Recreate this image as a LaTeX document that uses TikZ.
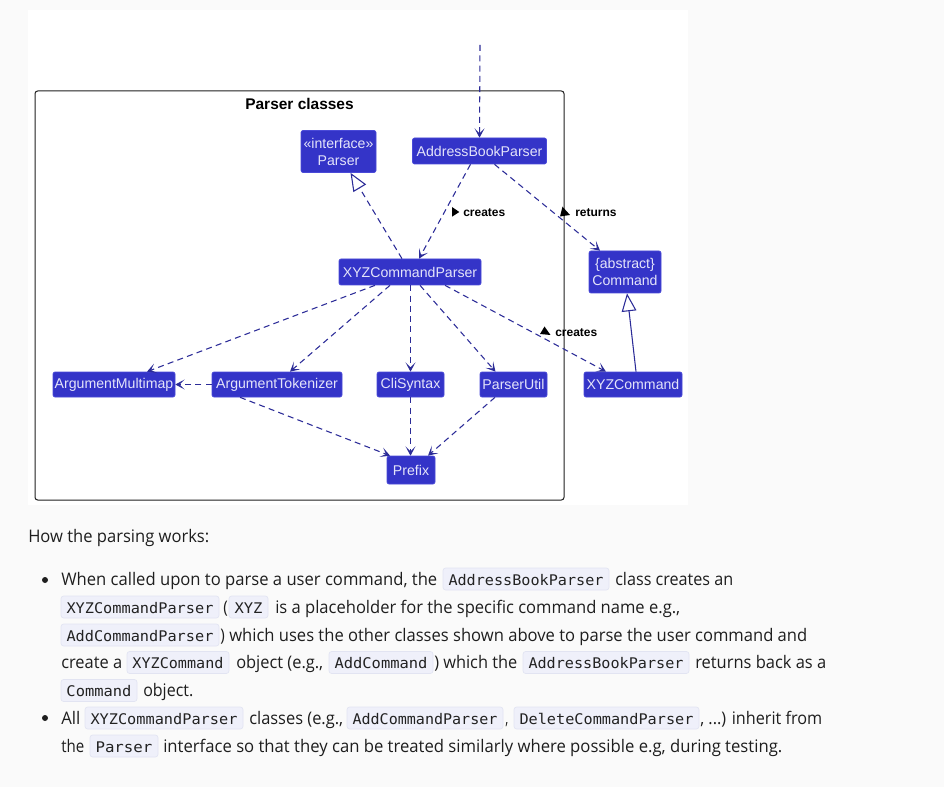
\documentclass[tikz,border=0pt]{standalone}
\usepackage{fontspec}
\usepackage{graphicx}
\setmainfont{Liberation Sans}
\newfontfamily\prosefam{Open Sans}
\newfontfamily\codefam{DejaVu Sans Mono}
\usetikzlibrary{arrows.meta,calc}
\definecolor{pagebg}{HTML}{FAFAFA}
\definecolor{boxc}{HTML}{3434C8}
\definecolor{boxd}{HTML}{4A4AD8}
\definecolor{boxt}{HTML}{E4E4FA}
\definecolor{arrc}{HTML}{2C2C98}
\definecolor{framec}{HTML}{202020}
\definecolor{txtc}{HTML}{1E1E1E}
\definecolor{codebg}{HTML}{EFF0FA}
\definecolor{codebd}{HTML}{E2E4F2}
\definecolor{codec}{HTML}{222222}
\newdimen\pxd \pxd=0.75pt
\def\pxu{0.75pt}
\newcounter{segc}
\newcommand\prosefont{\prosefam\fontsize{13}{16}\selectfont}
\newcommand\codefont{\codefam\fontsize{11}{13}\selectfont}
% x, baseline, width, text
\newcommand\prose[4]{\stepcounter{segc}%
  \node[anchor=base west, inner sep=0pt, text=txtc, font=\prosefont] (p\arabic{segc}) at (#1,#2) {\resizebox{#3\pxd}{\height}{#4}};}
% x1, x2, baseline, text
\newcommand\code[4]{\stepcounter{segc}%
  \filldraw[fill=codebg, draw=codebd, line width=0.5pt, rounded corners=2pt] (#1,#3-17) rectangle (#2,#3+5);
  \node[anchor=base, inner sep=0pt, font=\codefont, text=codec] (c\arabic{segc}) at ({(#1+#2)/2},#3) {\resizebox{\dimexpr #2\pxd-#1\pxd-11\pxd\relax}{\height}{#4}};}
\begin{document}
\begin{tikzpicture}[x=0.75pt,y=-0.75pt,
  cls/.style={fill=boxc, draw=boxd, line width=0.5pt, text=boxt,
    font=\fontsize{10.6}{12.75}\selectfont, rounded corners=1.5pt, inner sep=0pt, align=center},
  dep/.style={draw=arrc, line width=0.8pt, dash pattern=on 4.5pt off 3.2pt,
    -{Stealth[length=7pt,width=7.5pt,inset=3.8pt]}},
  real/.style={draw=arrc, line width=0.8pt, dash pattern=on 4.5pt off 3.2pt,
    -{Triangle[open,length=13.5pt,width=11pt,fill=white]}},
  inh/.style={draw=arrc, line width=0.8pt,
    -{Triangle[open,length=13.5pt,width=11pt,fill=white]}},
  lbl/.style={font=\bfseries\fontsize{9}{11}\selectfont, inner sep=0pt, text=black}]
\useasboundingbox (0,0) rectangle (944,787);
\fill[pagebg] (0,0) rectangle (944,787);
\fill[white] (28,10) rectangle (688,505);
% frame
\draw[framec, line width=0.75pt, rounded corners=2pt] (35,91) rectangle (564,500);
\node[font=\bfseries\fontsize{11.6}{14}\selectfont, inner sep=0pt] (title) at (299.5,104) {Parser classes};
% classes
\node[cls, minimum width=75*\pxu, minimum height=42*\pxu] (parser) at (338.5,151.5) {«interface»\\Parser};
\node[cls, minimum width=134*\pxu, minimum height=26*\pxu] (abp) at (479.5,151) {AddressBookParser};
\node[cls, minimum width=142*\pxu, minimum height=26*\pxu] (xyzp) at (410,272) {XYZCommandParser};
\node[cls, minimum width=72*\pxu, minimum height=42*\pxu] (cmd) at (625,272) {\{abstract\}\\Command};
\node[cls, minimum width=122*\pxu, minimum height=25*\pxu] (amm) at (114,384.5) {ArgumentMultimap};
\node[cls, minimum width=130*\pxu, minimum height=25*\pxu] (atok) at (277,384.5) {ArgumentTokenizer};
\node[cls, minimum width=67*\pxu, minimum height=25*\pxu] (cli) at (410.5,384.5) {CliSyntax};
\node[cls, minimum width=67*\pxu, minimum height=25*\pxu] (pu) at (513.5,384.5) {ParserUtil};
\node[cls, minimum width=98*\pxu, minimum height=25*\pxu] (xyzc) at (633,384.5) {XYZCommand};
\node[cls, minimum width=48*\pxu, minimum height=28*\pxu] (prefix) at (411,470) {Prefix};
% connectors
\coordinate (top) at (480,45);
\draw[dep] (top) -- (abp.north);
\draw[real] ($(xyzp.north)+(-8,0)$) -- ($(parser.south)+(12,0)$);
\draw[dep] ($(abp.south)+(-9,0)$) -- ($(xyzp.north)+(9,0)$);
\draw[dep] ($(abp.south)+(15,0)$) -- ($(cmd.north)+(-25,0)$);
\draw[dep] ($(xyzp.south)+(-35,0)$) -- ($(amm.north)+(33,0)$);
\draw[dep] ($(xyzp.south)+(-20,0)$) -- ($(atok.north)+(13,0)$);
\draw[dep] (cli.north |- xyzp.south) -- (cli.north);
\draw[dep] ($(xyzp.south)+(10,0)$) -- ($(pu.north)+(-18,0)$);
\draw[dep] ($(xyzp.south)+(35,0)$) -- ($(xyzc.north)+(-27,0)$);
\draw[dep] (atok.west) -- (amm.east);
\draw[dep] ($(atok.south)+(-37,0)$) -- ($(prefix.north)+(-21,0)$);
\draw[dep] (cli.south) -- (cli.south |- prefix.north);
\draw[dep] ($(pu.south)+(-18.5,0)$) -- ($(prefix.north)+(17,0)$);
\draw[inh] ($(xyzc.north)+(3,0)$) -- ($(cmd.south)+(2,0)$);
% labels
\fill[black] (452,207) -- (459.3,212) -- (452,216.7) -- cycle;
\node[lbl, anchor=west] (l1) at (463,212.3) {creates};
\fill[black] (562.5,206.7) -- (570,215) -- (560,216.5) -- cycle;
\node[lbl, anchor=west] (l2) at (575,212.3) {returns};
\fill[black] (544.5,326.5) -- (550.5,335) -- (540,334) -- cycle;
\node[lbl, anchor=west] (l3) at (555,332.5) {creates};
% prose
\prose{28}{542}{181}{How the parsing works:}
\fill[txtc] (45,580) circle[radius=3];
\prose{61}{585}{376}{When called upon to parse a user command, the}
\code{443}{609}{585}{AddressBookParser}
\prose{615}{585}{118}{class creates an}
\code{61}{219}{613}{XYZCommandParser}
\prose{223}{613}{4.5}{(}
\code{229}{268}{613}{XYZ}
\prose{275}{613}{405}{is a placeholder for the specific command name e.g.,}
\code{61}{219}{641}{AddCommandParser}
\prose{220}{641}{4.5}{)}
\prose{229}{641}{578}{which uses the other classes shown above to parse the user command and}
\prose{61}{668.5}{61}{create a}
\code{127}{229}{668.5}{XYZCommand}
\prose{236}{668.5}{87}{object (e.g.,}
\code{329}{433}{668.5}{AddCommand}
\prose{434}{668.5}{83}{) which the}
\code{523}{689}{668.5}{AddressBookParser}
\prose{695}{668.5}{131}{returns back as a}
\code{61}{137}{696.5}{Command}
\prose{143}{696.5}{50}{object.}
\fill[txtc] (45,718) circle[radius=3];
\prose{61}{724}{19}{All}
\code{85}{243}{724}{XYZCommandParser}
\prose{249}{724}{94}{classes (e.g.,}
\code{347}{503}{724}{AddCommandParser}
\prose{505}{724}{3}{,}
\code{514}{699}{724}{DeleteCommandParser}
\prose{700}{724}{122}{, ...) inherit from}
\prose{61}{752}{23}{the}
\code{90}{158}{752}{Parser}
\prose{163}{752}{619}{interface so that they can be treated similarly where possible e.g, during testing.}
\end{tikzpicture}
\end{document}
